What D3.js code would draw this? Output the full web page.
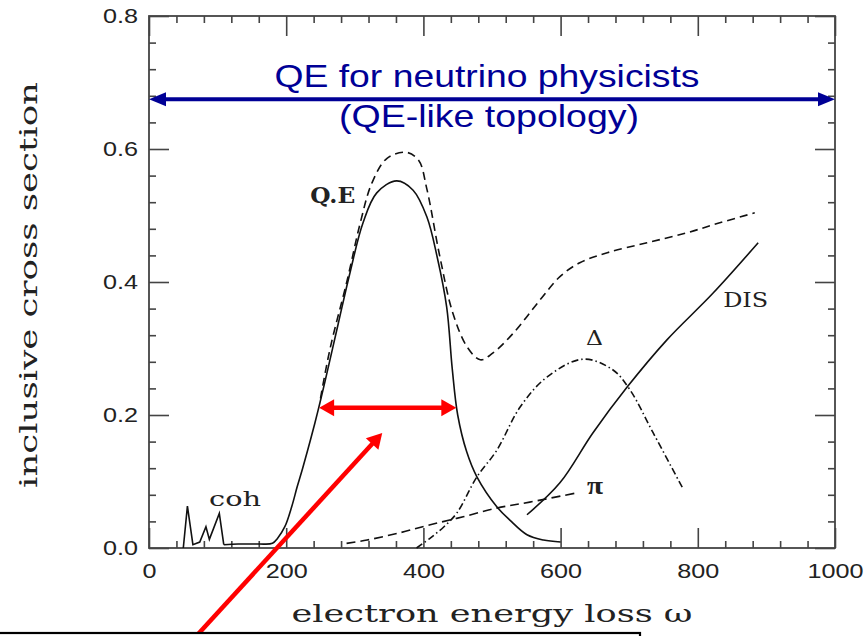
<!DOCTYPE html>
<html lang="en">
<head>
<meta charset="utf-8">
<title>Inclusive electron scattering cross section vs energy loss</title>
<script src="https://d3js.org/d3.v7.min.js"></script>
<style type="text/css">
  body { margin: 0; background: #fff; }
  svg { display: block; }
  .tick text { font-family: "Liberation Sans", Arial, sans-serif; font-size: 21px; fill: #222; }
  .tick line { stroke: #444; stroke-width: 1.6; }
  .serif { font-family: "DejaVu Serif", "Liberation Serif", serif; fill: #222; }
</style>
</head>
<body>
<script type="text/javascript">

// energy loss (omega) vs inclusive cross section, one array per component
var cohPts = [[50, 0.0], [56, 0.063], [64, 0.005], [74, 0.009], [83, 0.032], [88, 0.013], [102.5, 0.052], [109, 0.005]];
var qePts = [[109, 0.005], [130, 0.006], [160, 0.006], [180, 0.007], [187, 0.014], [198, 0.032], [208, 0.062],
             [216, 0.092], [224, 0.12], [236, 0.165], [246, 0.205], [256, 0.248], [276, 0.338], [293, 0.414],
             [312, 0.489], [332, 0.534], [361, 0.552], [385, 0.538], [405, 0.498], [420, 0.438], [434, 0.362],
             [442, 0.27], [450, 0.2], [463, 0.145], [478, 0.107], [507, 0.062], [526, 0.042], [551, 0.02],
             [575, 0.012], [600, 0.009]];
var totalPts = [[250, 0.225], [264, 0.3], [289, 0.403], [308, 0.489], [325, 0.549], [347, 0.586], [375, 0.595],
                [393, 0.583], [405, 0.54], [424, 0.438], [443, 0.353], [464, 0.302], [483, 0.283], [501, 0.293],
                [531, 0.323], [570, 0.373], [599, 0.408], [628, 0.429], [668, 0.444], [726, 0.459], [784, 0.474],
                [832, 0.489], [883, 0.504]];
var piPts = [[288, 0.007], [318, 0.012], [366, 0.023], [410, 0.035], [458, 0.047], [507, 0.06], [555, 0.069], [624, 0.083]];
var deltaPts = [[390, 0.0], [410, 0.015], [430, 0.032], [449, 0.053], [478, 0.107], [507, 0.147], [541, 0.212],
                [580, 0.257], [633, 0.284], [676, 0.268], [701, 0.238], [735, 0.173], [778, 0.09]];
var disPts = [[551, 0.05], [599, 0.098], [647, 0.173], [697, 0.242], [755, 0.313], [822, 0.383], [888, 0.459]];

// axis ticks
var xMajor = [0, 200, 400, 600, 800, 1000];
var xMinor = d3.range(1, 25).filter(function(i) { return i % 5; }).map(function(i) { return i * 40; });
var yMajor = [0, 0.2, 0.4, 0.6, 0.8];
var yMinor = d3.range(1, 20).filter(function(i) { return i % 5; }).map(function(i) { return i * 0.04; });

// curve labels [text, omega, sigma, width, size, bold, font]
var curveLabels = [["Q.E", 235, 0.519, 45, 22, true, null], ["coh", 87.5, 0.063, 52, 20, false, null],
                   ["DIS", 837, 0.362, 45, 20, false, null], ["\u0394", 637, 0.305, 17, 21, false, null],
                   ["\u03c0", 638.5, 0.081, 16, 26, true, "Liberation Serif"]];

// annotations in data units
var qeBand = [0, 1000];        // blue arrow extent
var qeBandLevel = 0.675;
var widthArrow = [248, 448];   // red width arrow
var widthLevel = 0.211;
var pointer = [[64, -0.138], [340, 0.173]];

var w = 864, h = 636;

var x = d3.scaleLinear().domain([0, 1000]).range([149, 835]);
var y = d3.scaleLinear().domain([0, 0.8]).range([548, 16]);

var svg = d3.select("body").append("svg")
  .attr("width", w)
  .attr("height", h);

// squeeze text horizontally like the rest of the figure
function stretch(sel, k) {
  sel.each(function() {
    var t = d3.select(this);
    var tx = +t.attr("x") || 0, ty = +t.attr("y") || 0;
    t.attr("x", 0).attr("y", 0).attr("transform", "translate(" + tx + "," + ty + ") scale(" + k + ",1)");
  });
}

//Axes: major ticks with labels, minor ticks without, all pointing inward
function drawAxis(axisFn, scale, pos, vals, size, fmt, pad) {
  var a = axisFn(scale).tickValues(vals).tickSizeInner(size).tickSizeOuter(0).tickPadding(pad || 3);
  a.tickFormat(fmt || "");
  var g = svg.append("g").attr("transform", pos).call(a);
  g.select(".domain").remove();
  return g;
}

var bx = drawAxis(d3.axisBottom, x, "translate(0," + y(0) + ")", xMajor, -20, d3.format("d"), 15);
drawAxis(d3.axisBottom, x, "translate(0," + y(0) + ")", xMinor, -7);
drawAxis(d3.axisTop, x, "translate(0," + y(0.8) + ")", xMajor, -20);
drawAxis(d3.axisTop, x, "translate(0," + y(0.8) + ")", xMinor, -7);
var ly = drawAxis(d3.axisLeft, y, "translate(" + x(0) + ",0)", yMajor, -20, d3.format(".1f"), 11);
drawAxis(d3.axisLeft, y, "translate(" + x(0) + ",0)", yMinor, -7);
drawAxis(d3.axisRight, y, "translate(" + x(1000) + ",0)", yMajor, -20);
drawAxis(d3.axisRight, y, "translate(" + x(1000) + ",0)", yMinor, -7);
stretch(bx.selectAll("text"), 1.2);
stretch(ly.selectAll("text"), 1.2);

//Frame
svg.append("rect")
  .attr("x", x(0)).attr("y", y(0.8))
  .attr("width", x(1000) - x(0)).attr("height", y(0) - y(0.8))
  .attr("fill", "none").attr("stroke", "#444").attr("stroke-width", 1.8);

//Curves
var smooth = d3.line().x(function(d) { return x(d[0]); }).y(function(d) { return y(d[1]); })
  .curve(d3.curveCatmullRom.alpha(0.5));
var straight = d3.line().x(function(d) { return x(d[0]); }).y(function(d) { return y(d[1]); });

function curve(pts, gen, dash) {
  svg.append("path")
    .attr("d", gen(pts))
    .attr("fill", "none")
    .attr("stroke", "#111")
    .attr("stroke-width", 1.6)
    .attr("stroke-dasharray", dash || null);
}
curve(cohPts, straight);
curve(qePts, smooth);
curve(totalPts, smooth, "8,5");
curve(piPts, smooth, "9,5");
curve(deltaPts, smooth, "7,3,1.5,3");
curve(disPts, smooth);

//Curve labels
curveLabels.forEach(function(l) {
  var t = svg.append("text")
    .attr("class", "serif")
    .attr("x", x(l[1])).attr("y", y(l[2]))
    .attr("font-size", l[4])
    .attr("font-weight", l[5] ? "bold" : "normal")
    .attr("textLength", l[3])
    .attr("lengthAdjust", "spacingAndGlyphs")
    .text(l[0]);
  if (l[6]) t.style("font-family", l[6]);
});

//Axis titles
svg.append("text")
  .attr("class", "serif")
  .attr("x", (x(0) + x(1000)) / 2).attr("y", 622)
  .attr("text-anchor", "middle")
  .attr("font-size", 25)
  .attr("textLength", 401)
  .attr("lengthAdjust", "spacingAndGlyphs")
  .text("electron energy loss \u03c9");

svg.append("text")
  .attr("class", "serif")
  .attr("transform", "translate(37,285) rotate(-90)")
  .attr("text-anchor", "middle")
  .attr("font-size", 25)
  .attr("textLength", 406)
  .attr("lengthAdjust", "spacingAndGlyphs")
  .text("inclusive cross section");

//Arrows
function arrowHead(tip, dir, len, half, color) {
  var nx = -dir[1], ny = dir[0];
  var bx0 = tip[0] - dir[0] * len, by0 = tip[1] - dir[1] * len;
  svg.append("polygon")
    .attr("points", [[tip[0], tip[1]], [bx0 + nx * half, by0 + ny * half], [bx0 - nx * half, by0 - ny * half]].join(" "))
    .attr("fill", color);
}
function arrow(p0, p1, color, width, len, half, both) {
  var dx = p1[0] - p0[0], dy = p1[1] - p0[1], L = Math.sqrt(dx * dx + dy * dy);
  var u = [dx / L, dy / L];
  svg.append("line")
    .attr("x1", p0[0] + (both ? u[0] * len * 0.8 : 0)).attr("y1", p0[1] + (both ? u[1] * len * 0.8 : 0))
    .attr("x2", p1[0] - u[0] * len * 0.8).attr("y2", p1[1] - u[1] * len * 0.8)
    .attr("stroke", color).attr("stroke-width", width);
  arrowHead(p1, u, len, half, color);
  if (both) arrowHead(p0, [-u[0], -u[1]], len, half, color);
}

var navy = "#000096";
arrow([x(qeBand[0]), y(qeBandLevel)], [x(qeBand[1]), y(qeBandLevel)], navy, 4, 17, 7, true);
arrow([x(widthArrow[0]), y(widthLevel)], [x(widthArrow[1]), y(widthLevel)], "#ff0000", 4.5, 15, 8.5, true);
arrow([x(pointer[0][0]), y(pointer[0][1])], [x(pointer[1][0]), y(pointer[1][1])], "#ff0000", 4.5, 15, 8.5, false);

//Blue annotation
svg.append("text")
  .attr("x", 487).attr("y", 87)
  .attr("text-anchor", "middle")
  .attr("font-family", "Liberation Sans, Arial, sans-serif")
  .attr("font-size", 32)
  .attr("fill", navy)
  .attr("textLength", 425)
  .attr("lengthAdjust", "spacingAndGlyphs")
  .text("QE for neutrino physicists");
svg.append("text")
  .attr("x", 489).attr("y", 127)
  .attr("text-anchor", "middle")
  .attr("font-family", "Liberation Sans, Arial, sans-serif")
  .attr("font-size", 32)
  .attr("fill", navy)
  .attr("textLength", 300)
  .attr("lengthAdjust", "spacingAndGlyphs")
  .text("(QE-like topology)");

//Box edge along the bottom
svg.append("rect")
  .attr("x", -2).attr("y", 633)
  .attr("width", 642).attr("height", 20)
  .attr("fill", "#fff").attr("stroke", "#000").attr("stroke-width", 2.2);

</script>
</body>
</html>
